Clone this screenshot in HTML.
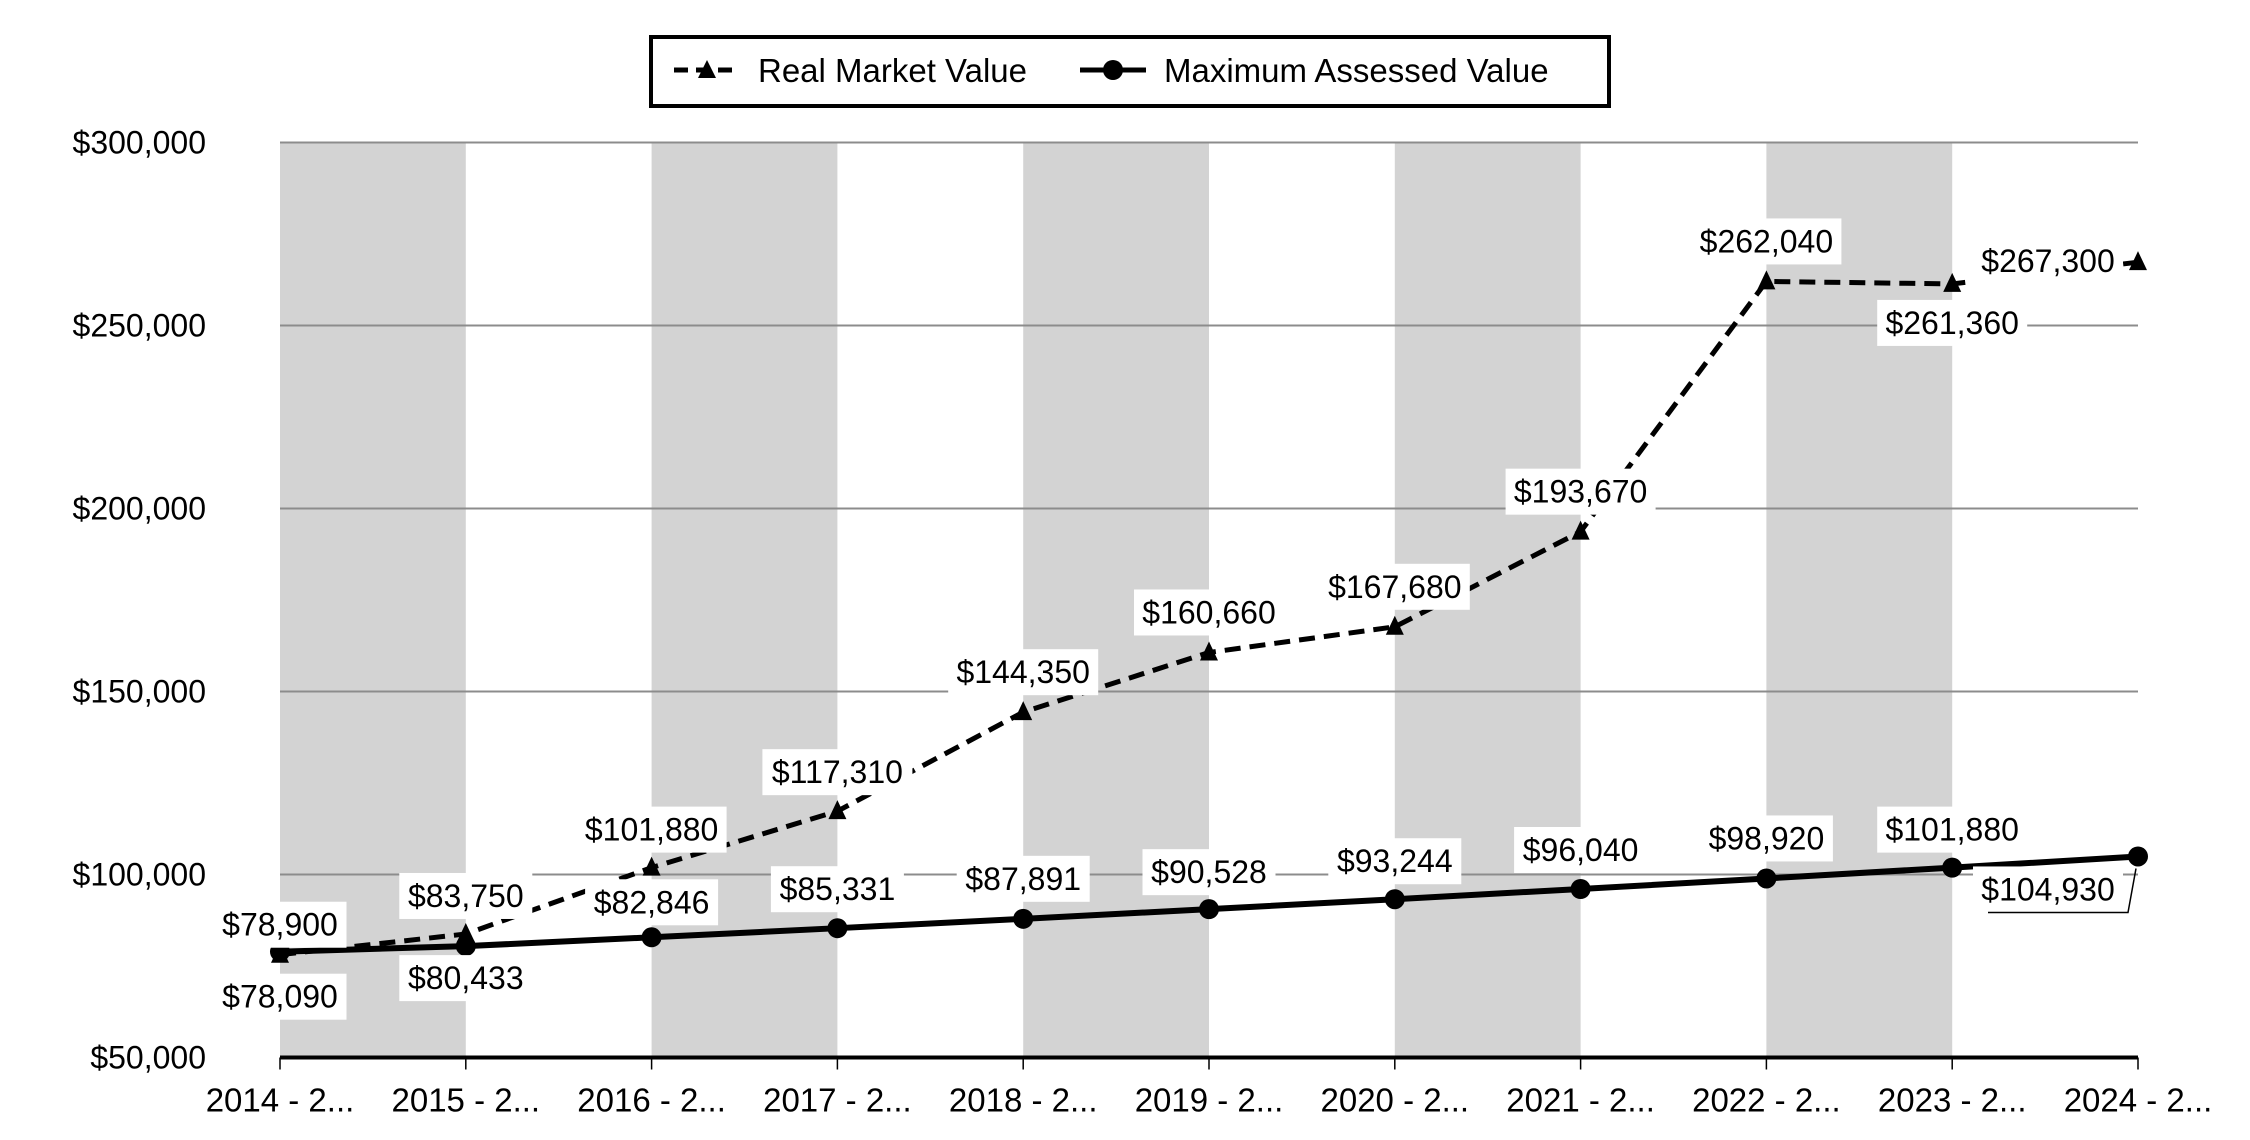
<!DOCTYPE html>
<html><head><meta charset="utf-8"><style>
body{margin:0;background:#fff;}
svg{display:block;font-family:"Liberation Sans",Arial,sans-serif;}
</style></head><body>
<svg id="chart" width="2250" height="1140" viewBox="0 0 2250 1140"></svg>
<script>
const categories=["2014 - 2...","2015 - 2...","2016 - 2...","2017 - 2...","2018 - 2...","2019 - 2...","2020 - 2...","2021 - 2...","2022 - 2...","2023 - 2...","2024 - 2..."];
const realMarketValue=[78090,83750,101880,117310,144350,160660,167680,193670,262040,261360,267300];
const maxAssessedValue=[78900,80433,82846,85331,87891,90528,93244,96040,98920,101880,104930];
const yTicks=[50000,100000,150000,200000,250000,300000];
// label offsets (layout, px relative to point)
const rmvLabelOff=[[0,42],[0,-38],[0,-38],[0,-39],[0,-40],[0,-40],[0,-40],[0,-40],[0,-40],[0,39],[-90,-1]];
const mavLabelOff=[[0,-27],[0,32],[0,-35],[0,-39],[0,-40],[0,-37],[0,-38],[0,-39],[0,-40],[0,-38],[-90,33]];

const svg=document.getElementById('chart');
const NS='http://www.w3.org/2000/svg';
const L=280,R=2138,T=142.5,B=1057.5,yMin=50000,yMax=300000;
const x=i=>L+i*(R-L)/(categories.length-1);
const y=v=>B-(v-yMin)/(yMax-yMin)*(B-T);
function el(tag,attrs,parent){const e=document.createElementNS(NS,tag);for(const k in attrs)e.setAttribute(k,attrs[k]);(parent||svg).appendChild(e);return e;}
const fmt=v=>'$'+v.toLocaleString('en-US');

for(let i=0;i<categories.length-1;i+=2){
  const b=el('rect',{x:x(i),y:T,width:x(i+1)-x(i),height:B-T,fill:'#d3d3d3'});
  
  
}
yTicks.forEach(v=>{
  if(v>yMin){const g=el('line',{x1:L,x2:R,y1:y(v),y2:y(v),stroke:'#8c8c8c','stroke-width':2});
  
  }
  const t=el('text',{x:206,y:y(v)+11,'text-anchor':'end','font-size':32});
  t.textContent=fmt(v);
  
  
});
const ax=el('line',{x1:L,x2:R,y1:B,y2:B,stroke:'#000','stroke-width':4});


categories.forEach((c,i)=>{
  const tk=el('line',{x1:x(i),x2:x(i),y1:B,y2:B+12,stroke:'#000','stroke-width':1.5});
  
  
  const t=el('text',{x:x(i),y:B+54,'text-anchor':'middle','font-size':33});
  t.textContent=c;
  
  
});
const rmvLine=el('polyline',{points:realMarketValue.map((v,i)=>x(i)+','+y(v)).join(' '),fill:'none',stroke:'#000','stroke-width':5,'stroke-dasharray':'16 9'});


const mavLine=el('polyline',{points:maxAssessedValue.map((v,i)=>x(i)+','+y(v)).join(' '),fill:'none',stroke:'#000','stroke-width':6});


realMarketValue.forEach((v,i)=>{
  const px=x(i),py=y(v);
  const m=el('polygon',{points:`${px},${py-11} ${px-9},${py+8} ${px+9},${py+8}`,fill:'#000'});
  
  
});
maxAssessedValue.forEach((v,i)=>{
  const m=el('circle',{cx:x(i),cy:y(v),r:10,fill:'#000'});
  
  
});
function label(v,i,off,name){
  const cx=x(i)+off[0],cy=y(v)+off[1];
  const w=String(fmt(v)).length*17+14;
  const r=el('rect',{x:cx-w/2,y:cy-23,width:w,height:46,fill:'#fff'});
  
  
  const t=el('text',{x:cx,y:cy+11,'text-anchor':'middle','font-size':32});
  t.textContent=fmt(v);
  
  
}
realMarketValue.forEach((v,i)=>label(v,i,rmvLabelOff[i],'real-market-value'));
maxAssessedValue.forEach((v,i)=>label(v,i,mavLabelOff[i],'maximum-assessed-value'));
// leader line for last MAV label
{const n=maxAssessedValue.length-1,px=x(n),py=y(maxAssessedValue[n]);
 const ld=el('polyline',{points:`${px-150},${py+56} ${px-10},${py+56} ${px-2},${py+12}`,fill:'none',stroke:'#000','stroke-width':1.5});
 
 }
const lg=el('g',{});


el('rect',{x:651,y:37,width:958,height:69,fill:'#fff',stroke:'#000','stroke-width':4},lg);
el('line',{x1:674,x2:738,y1:70,y2:70,stroke:'#000','stroke-width':5,'stroke-dasharray':'14 8'},lg);
el('polygon',{points:'707,60 698,78 716,78',fill:'#000'},lg);
const t1=el('text',{x:758,y:82,'font-size':33},lg);t1.textContent='Real Market Value';


el('line',{x1:1080,x2:1146,y1:70,y2:70,stroke:'#000','stroke-width':5},lg);
el('circle',{cx:1113,cy:70,r:10,fill:'#000'},lg);
const t2=el('text',{x:1164,y:82,'font-size':33},lg);t2.textContent='Maximum Assessed Value';


</script>
</body></html>
